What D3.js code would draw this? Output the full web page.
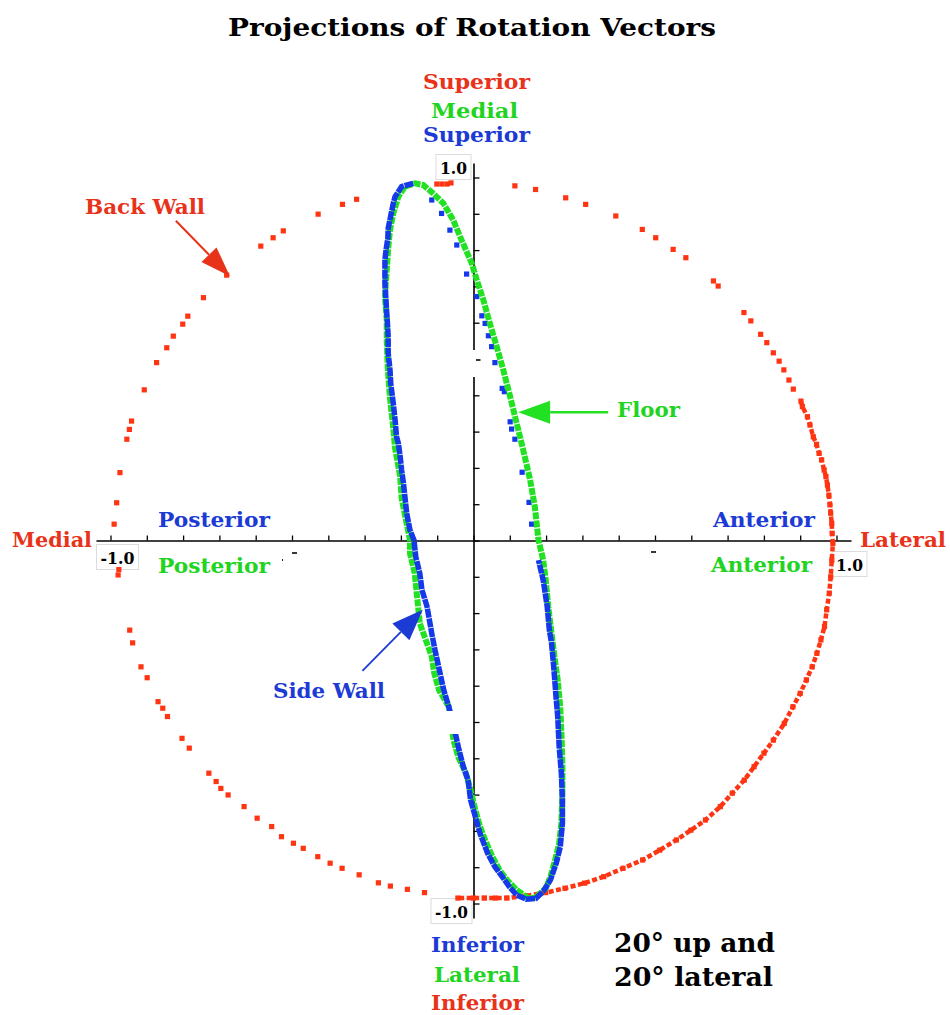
<!DOCTYPE html>
<html><head><meta charset="utf-8">
<script src="https://cdn.jsdelivr.net/npm/d3@7"></script>
<style>body{margin:0;background:#fff}svg{display:block}</style>
</head><body>
<svg id="chart" width="950" height="1015"></svg>
<script>
// ---------- DATA (in plot units) ----------
const axisTicks = [-1.0,-0.9,-0.8,-0.7,-0.6,-0.5,-0.4,-0.3,-0.2,-0.1,0.0,0.1,0.2,0.3,0.4,0.5,0.6,0.7,0.8,0.9,1.0];
const axisEndLabels = ["-1.0", "1.0"];

// Back Wall (red) – sparse part
const backWallSparse = [
  [-0.101,0.982],[-0.087,0.982],[-0.073,0.982],[-0.062,0.985],
  [-0.322,0.940],[-0.361,0.926],[-0.428,0.899],[-0.524,0.853],[-0.552,0.834],[-0.586,0.811],
  [-0.680,0.731],[-0.744,0.669],[-0.787,0.618],[-0.801,0.596],[-0.827,0.563],[-0.845,0.531],
  [-0.873,0.490],[-0.907,0.415],[-0.942,0.329],[-0.948,0.306],[-0.955,0.279],[-0.974,0.187],
  [-0.983,0.104],[-0.990,0.045],
  [0.114,0.977],[0.171,0.967],[0.254,0.944],[0.309,0.926],[0.392,0.894],[0.465,0.857],
  [0.502,0.834],[0.550,0.802],[0.585,0.779],[0.661,0.715],[0.674,0.701],[0.745,0.628],
  [0.764,0.605],[0.791,0.568],[0.808,0.545],[0.826,0.517],[0.842,0.494],[0.855,0.470],
  [0.869,0.442],[0.881,0.417],
  [-0.979,-0.095],[-0.977,-0.080],[-0.947,-0.247],[-0.939,-0.282],[-0.916,-0.348],[-0.899,-0.378],
  [-0.869,-0.444],[-0.856,-0.462],[-0.843,-0.485],[-0.803,-0.545],[-0.783,-0.572],
  [-0.729,-0.641],[-0.709,-0.664],[-0.696,-0.683],[-0.676,-0.701],[-0.632,-0.733],
  [-0.596,-0.765],[-0.556,-0.788],[-0.529,-0.816],[-0.496,-0.834],[-0.469,-0.848],
  [-0.429,-0.871],[-0.395,-0.889],[-0.362,-0.903],[-0.315,-0.921],[-0.262,-0.943],
  [-0.229,-0.952],[-0.182,-0.961],[-0.135,-0.970]
];
// Back Wall (red) – dense arc, right side down to the bottom
const backWallDense = [
  [0.902,0.384],[0.906,0.369],[0.920,0.341],[0.927,0.318],[0.936,0.286],[0.945,0.265],
  [0.952,0.240],[0.959,0.222],[0.966,0.194],[0.971,0.176],[0.975,0.153],[0.979,0.125],
  [0.982,0.098],[0.984,0.075],[0.987,0.047],[0.988,0.020],[0.990,-0.008],[0.987,-0.054],
  [0.984,-0.100],[0.980,-0.145],[0.973,-0.191],[0.967,-0.237],[0.957,-0.274],[0.946,-0.311],
  [0.933,-0.348],[0.917,-0.384],[0.900,-0.421],[0.880,-0.458],[0.856,-0.504],[0.826,-0.550],
  [0.800,-0.586],[0.773,-0.623],[0.746,-0.660],[0.713,-0.696],[0.680,-0.733],[0.639,-0.770],
  [0.599,-0.798],[0.559,-0.825],[0.513,-0.853],[0.466,-0.880],[0.412,-0.903],[0.359,-0.926],
  [0.306,-0.944],[0.252,-0.958],[0.199,-0.970],[0.145,-0.979],[0.092,-0.985],[0.060,-0.985],
  [0.030,-0.985],[0.000,-0.985],[-0.043,-0.985]
];

// Floor (green) – closed loop
const floorLoop = [
  [0.152,-0.986],[0.172,-0.983],[0.199,-0.958],[0.212,-0.926],[0.225,-0.880],[0.236,-0.834],
  [0.242,-0.779],[0.245,-0.696],[0.245,-0.623],[0.243,-0.550],[0.239,-0.458],[0.232,-0.384],
  [0.223,-0.320],[0.215,-0.256],[0.206,-0.182],[0.199,-0.109],[0.192,-0.054],[0.179,0.001],
  [0.169,0.093],[0.156,0.167],[0.137,0.249],[0.119,0.323],[0.101,0.396],[0.082,0.470],
  [0.064,0.534],[0.045,0.598],[0.027,0.663],[0.009,0.718],[-0.005,0.764],[-0.037,0.837],
  [-0.056,0.883],[-0.083,0.929],[-0.111,0.956],[-0.138,0.979],[-0.161,0.984],[-0.189,0.975],
  [-0.207,0.947],[-0.221,0.901],[-0.230,0.855],[-0.235,0.805],[-0.239,0.745],[-0.244,0.672],
  [-0.239,0.607],[-0.239,0.552],[-0.236,0.470],[-0.230,0.392],[-0.221,0.309],[-0.216,0.254],
  [-0.202,0.176],[-0.198,0.116],[-0.175,0.001],[-0.175,-0.035],[-0.162,-0.090],[-0.148,-0.228],
  [-0.115,-0.320],[-0.108,-0.366],[-0.095,-0.412],[-0.068,-0.458],[-0.055,-0.550],[-0.042,-0.596],
  [-0.021,-0.641],[-0.008,-0.687],[0.005,-0.742],[0.018,-0.788],[0.032,-0.825],[0.052,-0.871],
  [0.072,-0.908],[0.092,-0.935],[0.119,-0.963],[0.152,-0.986]
];

// Side Wall (blue) – dense part of the loop
const sideWallLoop = [
  [-0.166,0.984],[-0.198,0.975],[-0.216,0.947],[-0.221,0.929],[-0.235,0.860],[-0.236,0.833],
  [-0.241,0.800],[-0.244,0.773],[-0.244,0.709],[-0.239,0.626],[-0.237,0.598],[-0.235,0.561],
  [-0.235,0.516],[-0.230,0.470],[-0.228,0.433],[-0.221,0.378],[-0.216,0.332],[-0.212,0.286],
  [-0.207,0.268],[-0.202,0.231],[-0.198,0.194],[-0.193,0.158],[-0.189,0.121],[-0.184,0.075],
  [-0.175,0.029],[-0.164,0.001],[-0.159,-0.045],[-0.148,-0.090],[-0.142,-0.136],[-0.128,-0.182],
  [-0.115,-0.256],[-0.106,-0.302],[-0.092,-0.366],[-0.082,-0.412],[-0.068,-0.458],[-0.048,-0.540],
  [-0.042,-0.568],[-0.028,-0.623],[-0.015,-0.660],[-0.008,-0.715],[0.005,-0.761],[0.018,-0.807],
  [0.039,-0.862],[0.059,-0.899],[0.079,-0.926],[0.099,-0.954],[0.119,-0.977],[0.145,-0.988],
  [0.172,-0.986],[0.192,-0.967],[0.212,-0.935],[0.228,-0.889],[0.239,-0.844],[0.245,-0.779],
  [0.245,-0.715],[0.242,-0.641],[0.236,-0.568],[0.232,-0.485],[0.228,-0.439],[0.221,-0.348],
  [0.215,-0.283],[0.209,-0.247],[0.203,-0.182],[0.192,-0.109],[0.179,-0.054]
];
// Side Wall (blue) – sparse dots on the upper right branch
const sideWallDots = [
  [0.160,0.045],[0.153,0.105],[0.134,0.188],[0.114,0.279],[0.105,0.307],[0.101,0.327],
  [0.085,0.410],[0.079,0.419],[0.059,0.490],[0.050,0.534],[0.041,0.564],[0.032,0.598],
  [0.023,0.619],[0.009,0.672],[-0.019,0.734],[-0.046,0.814],[-0.065,0.855],[-0.088,0.901],
  [-0.115,0.938]
];

// ---------- DRAWING ----------
const RED = "#ff3412", GREEN = "#22e022", BLUE = "#1438ea";
const RED_T = "#e8321a", GREEN_T = "#22d422", BLUE_T = "#1c3ad4";
const svg = d3.select("#chart");
const x = d3.scaleLinear().domain([-1.04, 1.04]).range([473.5 - 1.04*363, 473.5 + 1.04*363]);
const y = d3.scaleLinear().domain([-1.04, 1.04]).range([540.5 + 1.04*363, 540.5 - 1.04*363]);

// axes
svg.append("g").attr("transform", `translate(0,${y(0)})`)
  .call(d3.axisTop(x).tickValues(axisTicks).tickSize(5).tickSizeOuter(0).tickFormat(""));
svg.append("g").attr("transform", `translate(${x(0)},0)`)
  .call(d3.axisRight(y).tickValues(axisTicks).tickSize(6).tickSizeOuter(0).tickFormat(""));
svg.selectAll(".domain").attr("stroke", "#000").attr("stroke-width", 1.6);
svg.selectAll(".tick line").attr("stroke", "#000").attr("stroke-width", 1.3);

// end labels in boxes
function boxLabel(txt, cx, baseline, w) {
  svg.append("rect").attr("x", cx - w/2).attr("y", baseline - 19).attr("width", w).attr("height", 25)
    .attr("fill", "#fff").attr("stroke", "#dcdcdc").attr("stroke-width", 1);
  svg.append("text").attr("x", cx - (w - 8)/2).attr("y", baseline)
    .attr("font-family", "DejaVu Serif").attr("font-weight", "bold").attr("font-size", 17)
    .attr("textLength", w - 8).attr("lengthAdjust", "spacingAndGlyphs")
    .attr("fill", "#000").text(txt);
}
boxLabel(axisEndLabels[1], x(0) - 20, y(1) - 4, 35);
boxLabel(axisEndLabels[0], x(0) - 22, y(-1) + 14, 41);
boxLabel(axisEndLabels[0], x(-1) + 7, y(0) + 23, 42);
boxLabel(axisEndLabels[1], x(1) + 13, y(0) + 30, 35);

// Back wall
const line = d3.line().x(d => x(d[0])).y(d => y(d[1]));
svg.append("path").attr("d", line(backWallDense)).attr("fill", "none").attr("stroke", RED)
  .attr("stroke-width", 4.5).attr("stroke-dasharray", "5,2.5");
function squares(data, color, s) {
  svg.append("g").selectAll("rect").data(data).join("rect")
    .attr("x", d => x(d[0]) - s/2).attr("y", d => y(d[1]) - s/2)
    .attr("width", s).attr("height", s).attr("fill", color);
}
squares(backWallSparse, RED, 5.2);
squares(backWallDense, RED, 5.2);

// side wall sparse dots under the floor curve
squares(sideWallDots, BLUE, 5.2);
// Floor
svg.append("path").attr("d", line(floorLoop)).attr("fill", "none").attr("stroke", GREEN)
  .attr("stroke-width", 6).attr("stroke-dasharray", "7,1.2");
// Side wall
svg.append("path").attr("d", line(sideWallLoop)).attr("fill", "none").attr("stroke", BLUE)
  .attr("stroke-width", 5.5).attr("stroke-dasharray", "9,0.8");

// white label remnants (hidden tick labels)
svg.append("rect").attr("x", x(0) - 6).attr("y", y(0.5) - 9).attr("width", 22).attr("height", 27).attr("fill", "#fff");
svg.append("rect").attr("x", x(0) - 36).attr("y", y(-0.5) - 11).attr("width", 28).attr("height", 23).attr("fill", "#fff");
function dash(x1, y1, x2, y2) {
  svg.append("line").attr("x1", x1).attr("y1", y1).attr("x2", x2).attr("y2", y2)
    .attr("stroke", "#222").attr("stroke-width", 1.8);
}
dash(x(0) + 2.5, y(0.5) + 1, x(0) + 7, y(0.5) + 1);
dash(x(-0.5), y(0) + 12.5, x(-0.5) + 5, y(0) + 12.5);
dash(x(-0.5) - 10, y(0) + 19.5, x(-0.5) - 9, y(0) + 19.5);
dash(x(0.5) - 4, y(0) + 11.5, x(0.5) + 1, y(0) + 11.5);

// text labels
const F = "DejaVu Serif";
function label(txt, x0, x1, base, color, size) {
  svg.append("text").attr("x", x0).attr("y", base).attr("font-family", F).attr("font-weight", "bold")
    .attr("font-size", size).attr("fill", color)
    .attr("textLength", x1 - x0).attr("lengthAdjust", "spacingAndGlyphs").text(txt);
}
label("Projections of Rotation Vectors", 228, 716, 36, "#000", 25);
label("Superior", 423, 530, 89, RED_T, 20);
label("Medial", 431, 518, 118, GREEN_T, 20);
label("Superior", 423, 530, 142, BLUE_T, 20);
label("Back Wall", 85, 205, 214, RED_T, 20);
label("Medial", 12, 92, 547, RED_T, 20);
label("Lateral", 860, 946, 547, RED_T, 20);
label("Posterior", 158, 270, 527, BLUE_T, 20);
label("Posterior", 158, 270, 573, GREEN_T, 20);
label("Anterior", 713, 815, 527, BLUE_T, 20);
label("Anterior", 711, 812, 572, GREEN_T, 20);
label("Floor", 617, 680, 417, GREEN_T, 20);
label("Side Wall", 273, 385, 698, BLUE_T, 20);
label("Inferior", 431, 524, 952, BLUE_T, 20);
label("Lateral", 434, 520, 982, GREEN_T, 20);
label("Inferior", 431, 524, 1010, RED_T, 20);
label("20° up and", 614, 775, 952, "#000", 26);
label("20° lateral", 614, 773, 986, "#000", 26);

// arrows (positions in plot units)
function arrow(from, tip, len, half, color, w) {
  const x0 = x(from[0]), y0 = y(from[1]), x1 = x(tip[0]), y1 = y(tip[1]);
  const dx = x1 - x0, dy = y1 - y0, L = Math.hypot(dx, dy), ux = dx / L, uy = dy / L;
  const bx = x1 - ux * len, by = y1 - uy * len;
  svg.append("line").attr("x1", x0).attr("y1", y0).attr("x2", bx).attr("y2", by)
    .attr("stroke", color).attr("stroke-width", w);
  svg.append("path").attr("d", `M${x1},${y1}L${bx - uy*half},${by + ux*half}L${bx + uy*half},${by - ux*half}Z`)
    .attr("fill", color);
}
arrow([-0.820, 0.881], [-0.671, 0.728], 30, 10.5, RED_T, 2);
arrow([0.371, 0.353], [0.123, 0.353], 32, 11.5, GREEN, 2.5);
arrow([-0.306, -0.359], [-0.140, -0.191], 31, 12, BLUE_T, 1.8);
</script>
</body></html>
